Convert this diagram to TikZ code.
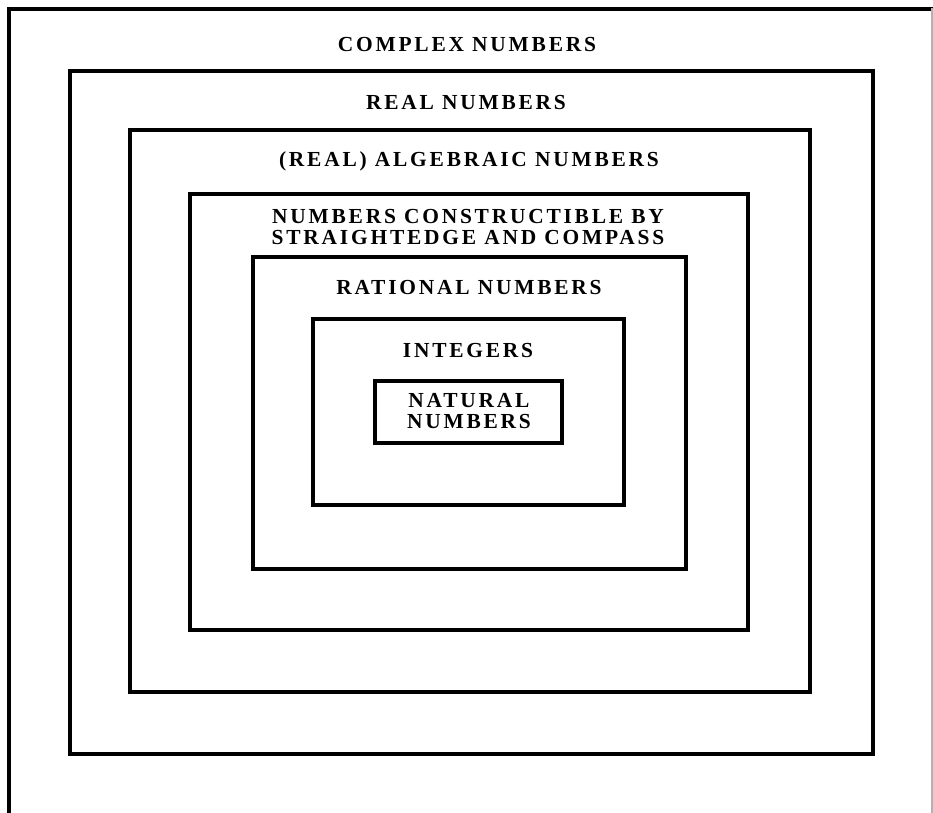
\documentclass[tikz,border=0pt]{standalone}
\usepackage{fontspec}
\newfontfamily\capsfont[LetterSpace=13]{Liberation Serif}
\usetikzlibrary{calc}

\begin{document}
\begin{tikzpicture}[x=1bp,y=-1bp,
  line cap=rect,
  line join=miter,
  box/.style={line width=4.2bp},
  every node/.style={font=\capsfont\bfseries\fontsize{21.5}{24}\selectfont,align=center,inner sep=0pt}]

  \useasboundingbox (0,0) rectangle (933,813);

  % 外枠（下は開いている）
  \draw[box] (9,813) -- (9,9) -- (933,9);
  \draw[gray!60,line width=1.5bp] (932,9) -- (932,813);

  % 入れ子の箱
  \draw[box] ( 70, 71) rectangle (873,754);  % real
  \draw[box] (130,130) rectangle (810,692);  % algebraic
  \draw[box] (190,194) rectangle (748,630);  % constructible
  \draw[box] (253,257) rectangle (686,569);  % rational
  \draw[box] (313,319) rectangle (624,505);  % integers
  \draw[box] (375,381) rectangle (562,443);  % natural

  % ラベル
  \node (complex)  at (467, 45) {COMPLEX NUMBERS};
  \node (real)     at (466,103) {REAL NUMBERS};
  \node (algebr)   at (469,161) {(REAL) ALGEBRAIC NUMBERS};
  \node (constr)   at (468,227) {NUMBERS CONSTRUCTIBLE BY\\[-3pt]STRAIGHTEDGE AND COMPASS};
  \node (rational) at (469,288) {RATIONAL NUMBERS};
  \node (integers) at (468,351) {INTEGERS};
  \node (natural)  at (469,411) {NATURAL\\[-3pt]NUMBERS};

\end{tikzpicture}
\end{document}
